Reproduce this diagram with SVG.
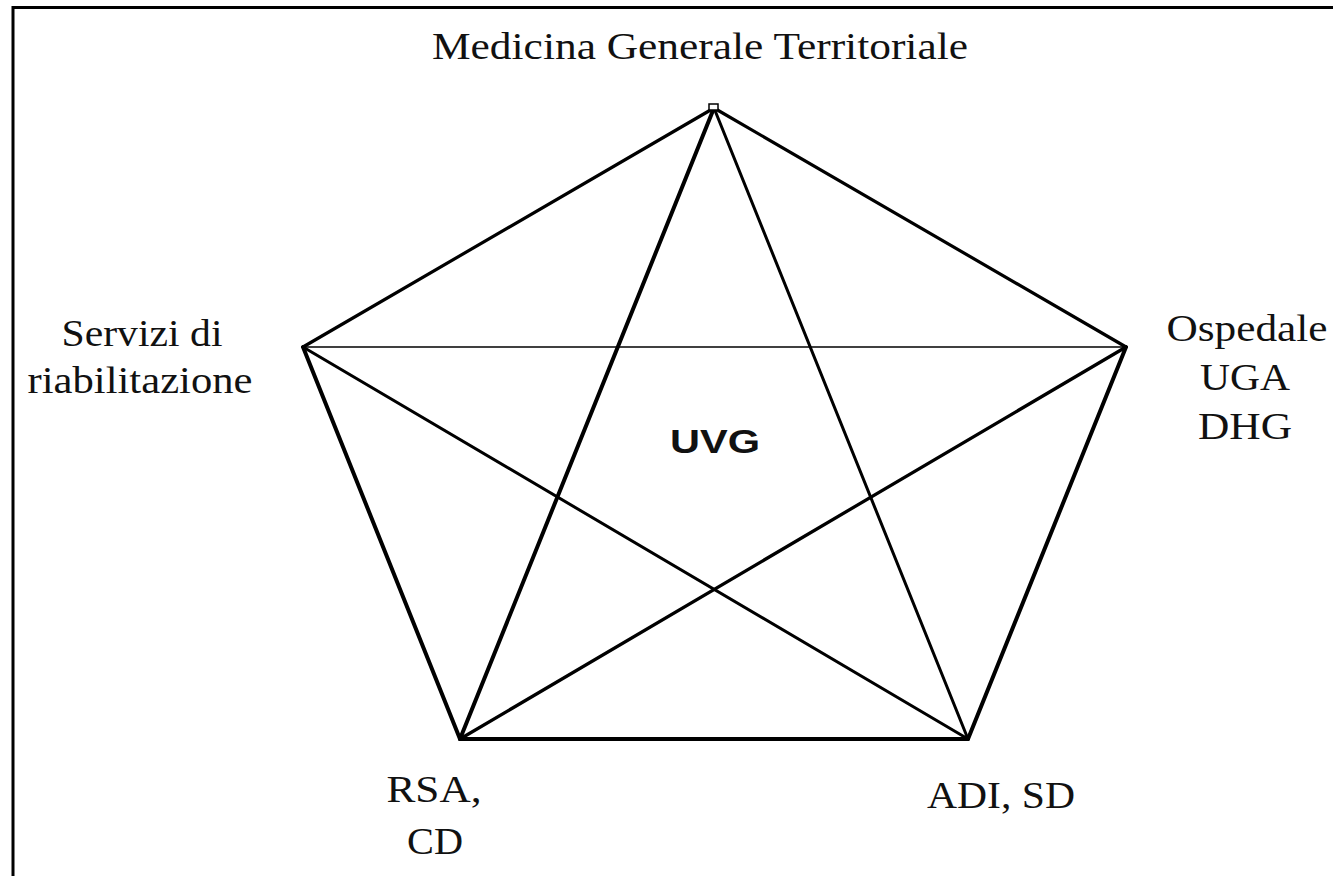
<svg xmlns="http://www.w3.org/2000/svg" width="1333" height="876" viewBox="0 0 1333 876">
<style>
.t{font-family:"Liberation Serif","DejaVu Serif",serif;font-size:37px;fill:#111;text-anchor:middle}
.b{font-family:"Liberation Sans",Arial,sans-serif;font-size:33px;font-weight:bold;fill:#111;text-anchor:middle}
line{stroke:#000;stroke-linecap:round}
</style>
<rect width="1333" height="876" fill="#fff"/>
<g id="frame"><path d="M13 876 V7.5 H1333" fill="none" stroke="#000" stroke-width="3"/></g>
<g id="connectors">
<line x1="714" y1="108" x2="303" y2="347" stroke-width="3.2"/>
<line x1="714" y1="108" x2="1126" y2="347" stroke-width="3.2"/>
<line x1="303" y1="347" x2="1126" y2="347" stroke-width="1.7"/>
<line x1="303" y1="347" x2="460" y2="739" stroke-width="4"/>
<line x1="1126" y1="347" x2="968" y2="739" stroke-width="4"/>
<line x1="460" y1="739" x2="968" y2="739" stroke-width="4"/>
<line x1="714" y1="108" x2="460" y2="739" stroke-width="4"/>
<line x1="714" y1="108" x2="968" y2="739" stroke-width="3"/>
<line x1="303" y1="347" x2="968" y2="739" stroke-width="3"/>
<line x1="1126" y1="347" x2="460" y2="739" stroke-width="3.3"/>
<line x1="1126" y1="347" x2="968" y2="739" stroke-width="1.7"/>
<rect x="709" y="104" width="9" height="6" fill="#fff" stroke="#000" stroke-width="1.5"/>
</g>
<g id="n-top"><text class="t" x="700" y="59" textLength="536" lengthAdjust="spacingAndGlyphs">Medicina Generale Territoriale</text></g>
<g id="n-left"><text class="t" x="142" y="346" textLength="161" lengthAdjust="spacingAndGlyphs">Servizi di</text><text class="t" x="140" y="393" textLength="225" lengthAdjust="spacingAndGlyphs">riabilitazione</text></g>
<g id="n-right"><text class="t" x="1247" y="341" textLength="161" lengthAdjust="spacingAndGlyphs">Ospedale</text><text class="t" x="1245" y="390" textLength="90" lengthAdjust="spacingAndGlyphs">UGA</text><text class="t" x="1245" y="439" textLength="94" lengthAdjust="spacingAndGlyphs">DHG</text></g>
<g id="n-center"><text class="b" x="715" y="453" textLength="90" lengthAdjust="spacingAndGlyphs">UVG</text></g>
<g id="n-bl"><text class="t" x="434" y="802" textLength="95" lengthAdjust="spacingAndGlyphs">RSA,</text><text class="t" x="435" y="854" textLength="56" lengthAdjust="spacingAndGlyphs">CD</text></g>
<g id="n-br"><text class="t" x="1001" y="808" textLength="148" lengthAdjust="spacingAndGlyphs">ADI, SD</text></g>
</svg>
